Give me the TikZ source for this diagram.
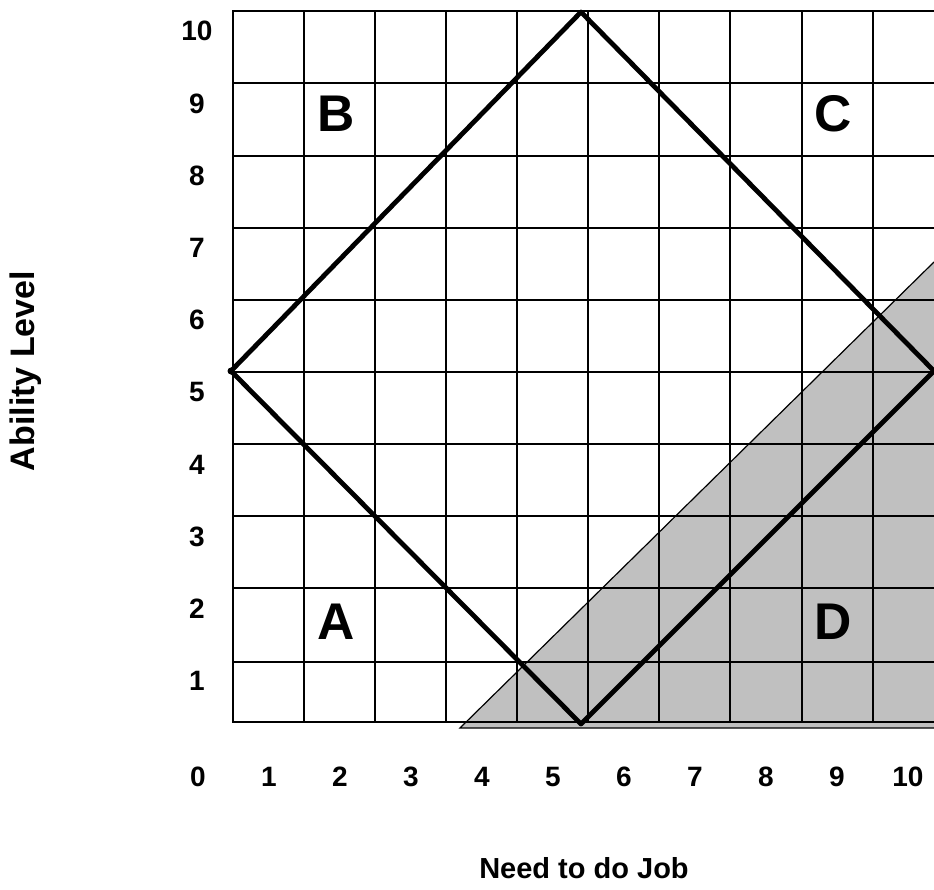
\documentclass[tikz,border=0pt]{standalone}
\usepackage{fontspec}
\setmainfont{Liberation Sans}
\usetikzlibrary{positioning}
\definecolor{ShadeGray}{HTML}{C0C0C0}

\begin{document}
\begin{tikzpicture}[x=0.5pt, y=-0.5pt,
  grid/.style={line width=1pt, draw=black},
  rim/.style={line width=2.4pt, draw=black, line join=round},
  num/.style={font=\fontsize{14}{16}\selectfont\bfseries, inner sep=0pt},
  zone/.style={font=\fontsize{25.8}{30}\selectfont\bfseries, inner sep=0pt},
  axis/.style={font=\fontsize{14.5}{17}\selectfont\bfseries, inner sep=0pt}]
  \useasboundingbox (0,0) rectangle (934,890);
  \clip (0,0) rectangle (934,890);
  % shaded region
  \coordinate (s1) at (460,728);
  \coordinate (s2) at (934,262);
  \coordinate (s3) at (934,728);
  \fill[ShadeGray] (s1) -- (s2) -- (s3) -- cycle;
  \draw[line width=0.6pt] (s3) -- (s1) -- (s2);
  % grid
  \foreach \x in {233,304,375,446,517,588,659,730,802,873,944}
    \draw[grid] (\x,11) -- (\x,722);
  \foreach \y in {11,83,156,228,300,372,444,516,588,662,722}
    \draw[grid] (232,\y) -- (944,\y);
  % diamond
  \coordinate (left) at (231,371);
  \coordinate (top) at (581,12);
  \coordinate (right) at (934,371);
  \coordinate (bottom) at (581,724);
  \draw[rim] (left) -- (top) -- (right) -- (bottom) -- cycle;
  \fill (left) circle (3.5);
  % axis numbers
  \foreach \k in {1,...,10}
    \node[num] (y\k) at (197,{681-72.2*(\k-1)}) {\k};
  \foreach \k in {0,...,10}
    \node[num] (x\k) at ({198+71*\k},777) {\k};
  % zones
  \node[zone] (zA) at (336,622) {A};
  \node[zone] (zB) at (336,114) {B};
  \node[zone] (zC) at (833,114) {C};
  \node[zone] (zD) at (833,622) {D};
  % axis titles
  \node[axis, rotate=90, font=\fontsize{17}{19}\selectfont\bfseries] (ylab) at (26,371) {Ability Level};
  \node[axis] (xlab) at (584,868) {Need to do Job};
\end{tikzpicture}
\end{document}
